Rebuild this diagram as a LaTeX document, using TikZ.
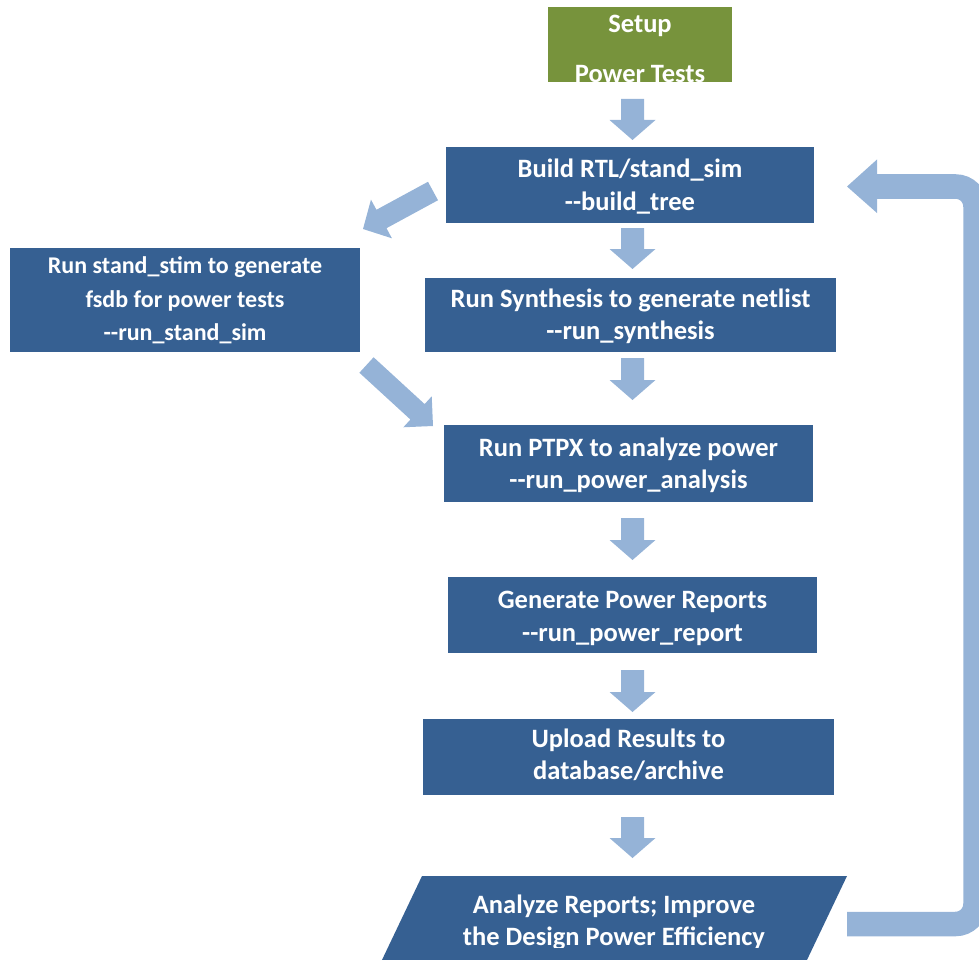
\documentclass[tikz,border=0pt]{standalone}
\usepackage{fontspec}
\setmainfont{Carlito}
\usetikzlibrary{calc}

\definecolor{stepblue}{RGB}{54,96,146}
\definecolor{flowblue}{RGB}{149,179,215}
\definecolor{setupgreen}{RGB}{119,147,60}

% double hyphen without the en-dash ligature
\newcommand\ddash{-{}-}

% block arrow from tail #1 to tip #2: half shaft #3, half head #4, head length #5
\newcommand\blockarrow[5]{%
  \coordinate (#1-hb) at ($(#2)!#5!(#1)$);
  \fill[flowblue]
    ($(#1)!#3!90:(#2)$) -- ($(#1-hb)!#3!90:(#2)$) -- ($(#1-hb)!#4!90:(#2)$)
    -- (#2)
    -- ($(#1-hb)!#4!-90:(#2)$) -- ($(#1-hb)!#3!-90:(#2)$) -- ($(#1)!#3!-90:(#2)$)
    -- cycle;
}

\tikzset{
  stepbox/.style={fill=stepblue, draw=none, inner sep=0pt, outer sep=0pt},
  steptext/.style={anchor=base, text=white, inner sep=0pt,
    font=\bfseries\fontsize{26.5}{32}\selectfont},
  smalltext/.style={steptext, font=\bfseries\fontsize{24}{32}\selectfont},
}

\begin{document}
\begin{tikzpicture}[x=1pt, y=-1pt]
\useasboundingbox (0,0) rectangle (979,960);

% ---- boxes ----
\node[stepbox, fill=setupgreen, minimum width=184pt, minimum height=75pt] (setup) at (640,44.5) {};
\node[stepbox, minimum width=368pt, minimum height=76pt] (build) at (630,185) {};
\node[stepbox, minimum width=350pt, minimum height=104pt] (stim) at (185,300) {};
\node[stepbox, minimum width=411pt, minimum height=74pt] (synth) at (630.5,315) {};
\node[stepbox, minimum width=369pt, minimum height=77pt] (ptpx) at (628.5,463.5) {};
\node[stepbox, minimum width=369pt, minimum height=76pt] (report) at (632.5,615) {};
\node[stepbox, minimum width=411pt, minimum height=76pt] (upload) at (628.5,757) {};

% slanted data box
\coordinate (pgA) at (422,876);
\coordinate (pgB) at (847,876);
\coordinate (pgC) at (806,962);
\coordinate (pgD) at (381,962);
\fill[stepblue] (pgA) -- (pgB) -- (pgC) -- (pgD) -- cycle;

% ---- labels ----
\begin{scope}
  \clip (548,7) rectangle (732,82);
  \node[steptext] (setupA) at (640,33) {Setup};
  \node[steptext] (setupB) at (640,83) {Power Tests};
\end{scope}

\node[steptext] (buildA) at (630,178) {Build RTL/stand\_sim};
\node[steptext] (buildB) at (630,210) {\ddash build\_tree};

\node[smalltext] (stimA) at (185,273) {Run stand\_stim to generate};
\node[smalltext] (stimB) at (185,307.5) {fsdb for power tests};
\node[smalltext] (stimC) at (185,340) {\ddash run\_stand\_sim};

\node[steptext] (synthA) at (630.5,307) {Run Synthesis to generate netlist};
\node[steptext] (synthB) at (630.5,339) {\ddash run\_synthesis};

\node[steptext] (ptpxA) at (628.5,456) {Run PTPX to analyze power};
\node[steptext] (ptpxB) at (628.5,488) {\ddash run\_power\_analysis};

\node[steptext] (reportA) at (632.5,608) {Generate Power Reports};
\node[steptext] (reportB) at (632.5,641) {\ddash run\_power\_report};

\node[steptext] (uploadA) at (628.5,747) {Upload Results to};
\node[steptext] (uploadB) at (628.5,779) {database/archive};

\begin{scope}
  \clip (370,870) rectangle (860,947);
  \node[steptext] (anaA) at (614,913) {Analyze Reports; Improve};
  \node[steptext] (anaB) at (614,945) {the Design Power Efficiency};
\end{scope}

% ---- flow arrows ----
\coordinate (d1t) at (632.5,99);  \coordinate (d1h) at (632.5,140);
\coordinate (d2t) at (632.5,228); \coordinate (d2h) at (632.5,269);
\coordinate (d3t) at (632.5,358); \coordinate (d3h) at (632.5,400);
\coordinate (d4t) at (632.5,518); \coordinate (d4h) at (632.5,560);
\coordinate (d5t) at (632.5,670); \coordinate (d5h) at (632.5,712);
\coordinate (d6t) at (632.5,817); \coordinate (d6h) at (632.5,858);
\foreach \k in {1,...,6}{\blockarrow{d\k t}{d\k h}{11.5pt}{23pt}{20pt}}

\coordinate (s1t) at (433,191);   \coordinate (s1h) at (363,229);
\blockarrow{s1t}{s1h}{10.5pt}{22pt}{21pt}
\coordinate (s2t) at (366.5,365); \coordinate (s2h) at (433,426);
\blockarrow{s2t}{s2h}{10.5pt}{21pt}{21pt}

% feedback loop back to the build step
\coordinate (lpA) at (847,924);
\coordinate (lpB) at (975.5,924);
\coordinate (lpC) at (975.5,186.5);
\coordinate (lpD) at (877,186.5);
\coordinate (lpT) at (847,186.5);
\draw[flowblue, line width=24.5pt, rounded corners=20pt] (lpA) -- (lpB) -- (lpC) -- (lpD);
\fill[flowblue] (877,159.5) -- (lpT) -- (877,213) -- cycle;
\end{tikzpicture}
\end{document}
